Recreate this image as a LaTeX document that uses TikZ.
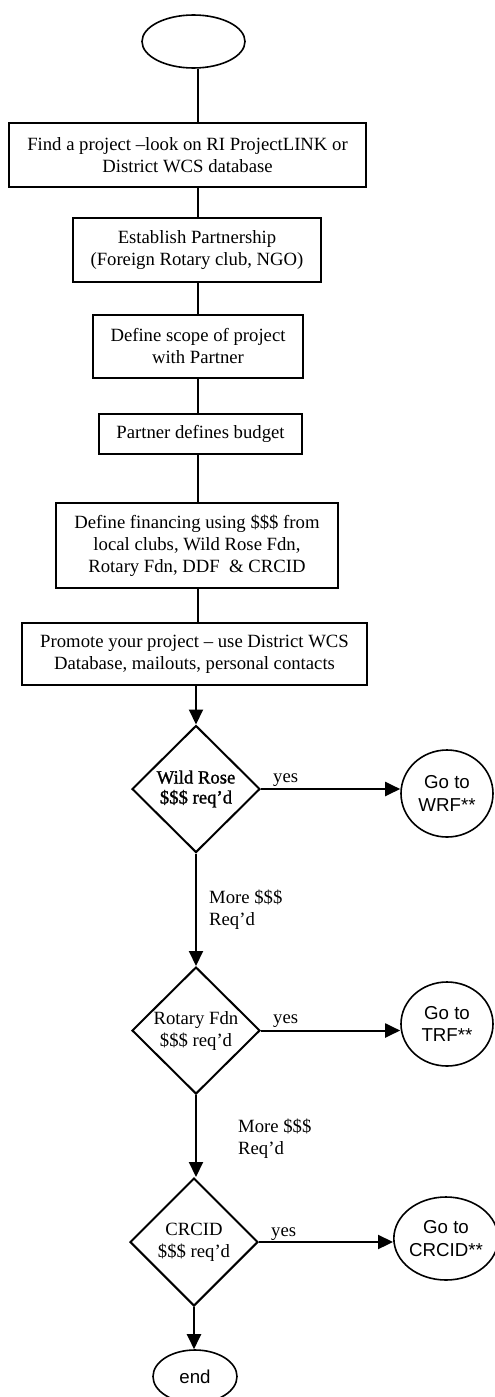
\documentclass[tikz,border=0pt]{standalone}
\usepackage{fontspec}
\setmainfont{Liberation Serif}
\newfontfamily\arialf{Liberation Sans}
\newfontfamily\boldserif{Liberation Serif}[FakeBold=1.2]
\usetikzlibrary{shapes.geometric,arrows.meta}
\begin{document}
\begin{tikzpicture}[x=1pt,y=-1pt,
  every node/.style={font=\fontsize{18.7}{22}\selectfont},
  box/.style={draw,line width=2pt,rectangle,align=center,inner sep=0pt},
  dec/.style={draw,line width=2pt,diamond,align=center,inner sep=0pt,minimum width=128pt,minimum height=127pt},
  term/.style={draw,line width=1.6pt,ellipse,align=center,inner sep=0pt,font=\arialf\fontsize{18.7}{22.5}\selectfont},
  conn/.style={line width=2pt},
  arr/.style={line width=2pt,-{Triangle[length=15pt,width=14pt]}},
  lbl/.style={inner sep=0pt,align=left}]
\useasboundingbox (0,0) rectangle (495,1397);
\coordinate (col) at (197.5,0);
% main column
\node[term,minimum width=103pt,minimum height=53pt] (start) at (193.5,41.5) {};
\node[box,minimum width=357pt,minimum height=64pt] (b1) at (187.5,155) {Find a project –look on RI ProjectLINK or\\District WCS database};
\node[box,minimum width=248pt,minimum height=64pt] (b2) at (197,250) {Establish Partnership\\(Foreign Rotary club, NGO)};
\node[box,minimum width=210pt,minimum height=63pt] (b3) at (198,346.5) {Define scope of project\\with Partner};
\node[box,minimum width=203pt,minimum height=40pt] (b4) at (200.5,434) {Partner defines budget};
\node[box,minimum width=282pt,minimum height=85pt] (b5) at (197,545.5) {Define financing using \$\$\$ from\\local clubs, Wild Rose Fdn,\\Rotary Fdn, DDF\ \ \& CRCID};
\node[box,minimum width=345pt,minimum height=62pt] (b6) at (194.5,654) {Promote your project – use District WCS\\Database, mailouts, personal contacts};
\node[dec,font=\boldserif\fontsize{18.7}{20}\selectfont] (d1) at (196,789) {Wild Rose\\\$\$\$ req’d};
\node[dec] (d2) at (196,1030.5) {Rotary Fdn\\\$\$\$ req’d};
\node[dec,minimum height=128pt] (d3) at (194,1242) {CRCID\\\$\$\$ req’d};
\node[term,minimum width=84pt,minimum height=53pt] (end) at (195,1376.5) {end};
% right column
\node[term,minimum width=92pt,minimum height=87pt] (wrf) at (447,793.5) {Go to\\WRF**};
\node[term,minimum width=92pt,minimum height=84pt] (trf) at (447,1024) {Go to\\TRF**};
\node[term,minimum width=98pt,minimum height=83pt] (crcid) at (446,1238.5) {Go to\\CRCID**};
% labels
\node[lbl,anchor=base west] (y1) at (273,782) {yes};
\node[lbl,anchor=base west] (y2) at (273,1023) {yes};
\node[lbl,anchor=base west] (y3) at (271,1236) {yes};
\node[lbl,anchor=west] (m1) at (209,910) {More \$\$\$\\Req’d};
\node[lbl,anchor=west] (m2) at (238,1139) {More \$\$\$\\Req’d};
% connectors
\draw[conn] (start.south -| col) -- (b1.north -| col);
\draw[conn] (b1.south -| col) -- (b2.north -| col);
\draw[conn] (b2.south -| col) -- (b3.north -| col);
\draw[conn] (b3.south -| col) -- (b4.north -| col);
\draw[conn] (b4.south -| col) -- (b5.north -| col);
\draw[conn] (b5.south -| col) -- (b6.north -| col);
\draw[arr] (b6.south -| d1.north) -- (d1.north);
\draw[arr] (d1.south) -- (d2.north);
\draw[arr] (d2.south) -- (d2.south |- d3.north);
\draw[arr] (d3.south) -- (d3.south |- end.north);
\draw[arr] (d1.east) -- (d1.east -| wrf.west);
\draw[arr] (d2.east) -- (d2.east -| trf.west);
\draw[arr] (d3.east) -- (d3.east -| crcid.west);
\end{tikzpicture}
\end{document}
